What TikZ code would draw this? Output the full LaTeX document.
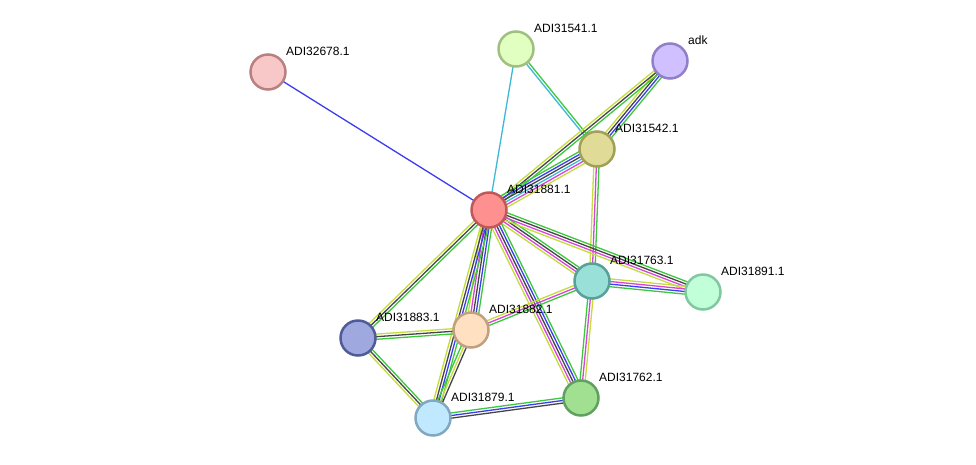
\documentclass[tikz,border=0pt]{standalone}
\usepackage{fontspec}
\setmainfont{Liberation Sans}
\usetikzlibrary{calc,backgrounds}

%% evidence line colours
\definecolor{sGreen}{HTML}{3CC83C}
\definecolor{sBlue}{HTML}{3C3CF0}
\definecolor{sBlack}{HTML}{454545}
\definecolor{sMag}{HTML}{D844D8}
\definecolor{sCyan}{HTML}{3CB8D8}
\definecolor{sYel}{HTML}{C4DC3C}

\tikzset{
  prot/.style={circle, draw, line width=2.5pt, minimum size=35pt, inner sep=0pt},
  plabel/.style={anchor=west, inner sep=0pt, font=\fontsize{12}{14}\selectfont},
  evline/.style={line width=1.3pt},
}

\begin{document}
\begin{tikzpicture}[x=1pt, y=-1pt]
  \useasboundingbox (0,0) rectangle (976,464);
  %% ── Proteins ─────────────────────────────────────────────
  \foreach \id/\nm/\px/\py/\fc/\bc in {
      n678/ADI32678.1/268/72/F8C8C8/B88080,
      n541/ADI31541.1/516/49/E0FFC0/A0C080,
      nadk/adk/670/61/D0C0FF/9080C8,
      n542/ADI31542.1/597/149/E0DC98/A0A058,
      n881/ADI31881.1/489/210/FF9090/C05858,
      n763/ADI31763.1/592/281/98E0D8/58A098,
      n891/ADI31891.1/703/292/C0FFD8/80C8A0,
      n883/ADI31883.1/358/338/A0A8E0/505C98,
      n882/ADI31882.1/471/330/FFE0C0/C0A080,
      n879/ADI31879.1/433/418/C0E8FF/80A8C0,
      n762/ADI31762.1/581/398/A0E090/60A060}{
    \definecolor{fc}{HTML}{\fc}
    \definecolor{bc}{HTML}{\bc}
    \node[prot, fill=fc, draw=bc] (\id) at (\px,\py) {};
    \node[plabel] (\id-lbl) at ($(\id)+(18,-21)$) {\nm};
  }

  %% ── Interactions (one line per evidence channel) ─────────
  \begin{pgfonlayer}{background}
  \foreach \a/\b/\n/\cols in {
      n678/n881/1/{sBlue},
      n541/n881/1/{sCyan},
      n541/n542/2/{sCyan,sGreen},
      nadk/n542/4/{sYel,sBlack,sBlue,sGreen},
      nadk/n881/3/{sYel,sBlack,sGreen},
      n881/n542/6/{sYel,sMag,sCyan,sBlack,sBlue,sGreen},
      n542/n763/3/{sYel,sMag,sGreen},
      n881/n763/4/{sYel,sMag,sBlack,sGreen},
      n881/n891/4/{sYel,sMag,sBlack,sGreen},
      n763/n891/4/{sGreen,sBlue,sMag,sYel},
      n881/n883/3/{sYel,sBlack,sGreen},
      n881/n882/5/{sYel,sMag,sBlack,sBlue,sGreen},
      n881/n879/4/{sYel,sBlack,sBlue,sGreen},
      n881/n762/5/{sYel,sMag,sBlack,sBlue,sGreen},
      n763/n882/3/{sYel,sMag,sGreen},
      n763/n762/3/{sGreen,sMag,sYel},
      n882/n883/3/{sYel,sBlack,sGreen},
      n882/n879/3/{sGreen,sYel,sBlack},
      n883/n879/3/{sYel,sBlack,sGreen},
      n879/n762/3/{sBlack,sBlue,sGreen}}{
    \foreach \c [count=\i] in \cols {
      \pgfmathsetmacro\off{(\i-(\n+1)/2)*2.6}
      \draw[evline, \c] ($(\a)!\off pt!90:(\b)$) -- ($(\b)!\off pt!-90:(\a)$);
    }
  }
  \end{pgfonlayer}
\end{tikzpicture}
\end{document}
